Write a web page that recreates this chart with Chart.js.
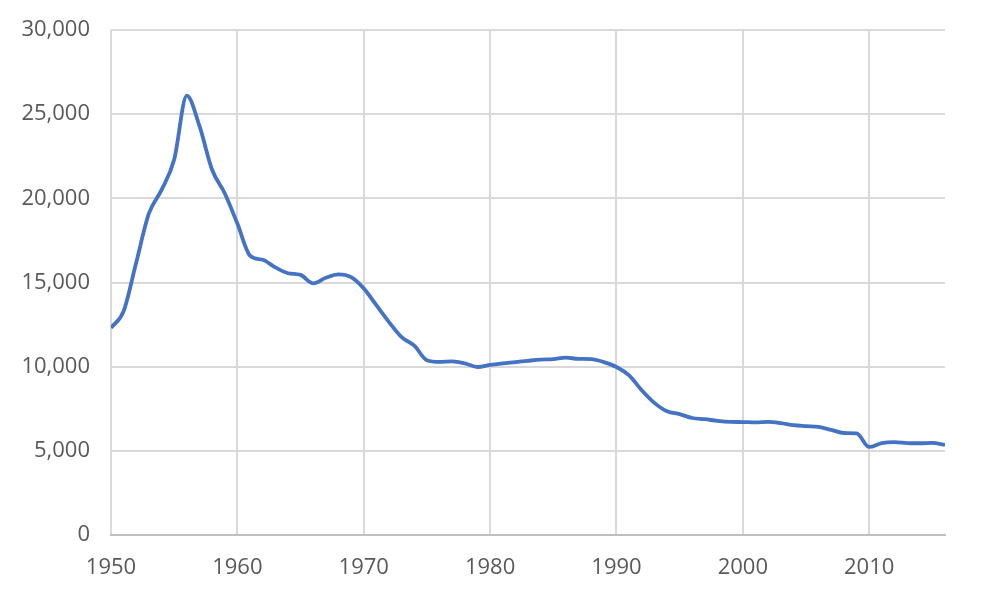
<!DOCTYPE html>
<html>
<head>
<meta charset="utf-8">
<script src="https://cdn.jsdelivr.net/npm/chart.js@4"></script>
<style>
  html, body { margin: 0; padding: 0; background: #fff; }
  #wrap { width: 1000px; height: 600px; }
</style>
</head>
<body>
<div id="wrap"><canvas id="myChart" width="1000" height="600"></canvas></div>
<script>
// values
const years = [];
for (let y = 1950; y <= 2016; y++) years.push(y);

const values = [
  12300, 13300, 16200, 19100, 20500, 22300, 26100, 24300, 21700, 20300,
  18500, 16600, 16350, 15900, 15550, 15450, 14950, 15280, 15480, 15320,
  14650, 13650, 12650, 11750, 11250, 10380, 10280, 10320, 10200, 9980,
  10100, 10200, 10270, 10350, 10420, 10450, 10540, 10460, 10450, 10270,
  9980, 9480, 8600, 7850, 7350, 7180, 6950, 6880, 6780, 6720,
  6710, 6690, 6720, 6650, 6530, 6470, 6420, 6240, 6060, 6040,
  5230, 5460, 5520, 5460, 5450, 5470, 5350
];

const yTicks = [0, 5000, 10000, 15000, 20000, 25000, 30000];

const points = years.map((yr, i) => ({ x: yr, y: values[i] }));

const ctx = document.getElementById('myChart').getContext('2d');
new Chart(ctx, {
  type: 'line',
  data: {
    datasets: [{
      data: points,
      borderColor: '#4472c4',
      borderWidth: 3.8,
      pointRadius: 0,
      tension: 0.4,
      cubicInterpolationMode: 'monotone',
      fill: false
    }]
  },
  options: {
    responsive: false,
    animation: false,
    layout: { padding: { top: 30, right: 55, left: 0, bottom: 0 } },
    plugins: { legend: { display: false }, tooltip: { enabled: false } },
    scales: {
      x: {
        type: 'linear',
        min: 1950,
        max: 2016,
        ticks: {
          stepSize: 10,
          includeBounds: false,
          color: '#595959',
          padding: 20,
          font: { family: 'Open Sans', size: 22 },
          callback: v => String(v)
        },
        grid: { color: '#d9d9d9', lineWidth: 2, drawTicks: false },
        border: { color: '#bfbfbf', width: 2 },
        afterFit: axis => { axis.height = 65; axis.paddingLeft = 0; axis.paddingRight = 0; }
      },
      y: {
        min: 0,
        max: 30000,
        afterBuildTicks: axis => { axis.ticks = yTicks.map(v => ({ value: v })); },
        ticks: {
          color: '#595959',
          padding: 21,
          font: { family: 'Open Sans', size: 22 }
        },
        grid: { color: '#d9d9d9', lineWidth: 2, drawTicks: false },
        border: { display: false },
        afterFit: axis => { axis.width = 111; axis.paddingTop = 0; axis.paddingBottom = 0; }
      }
    }
  }
});
</script>
</body>
</html>
